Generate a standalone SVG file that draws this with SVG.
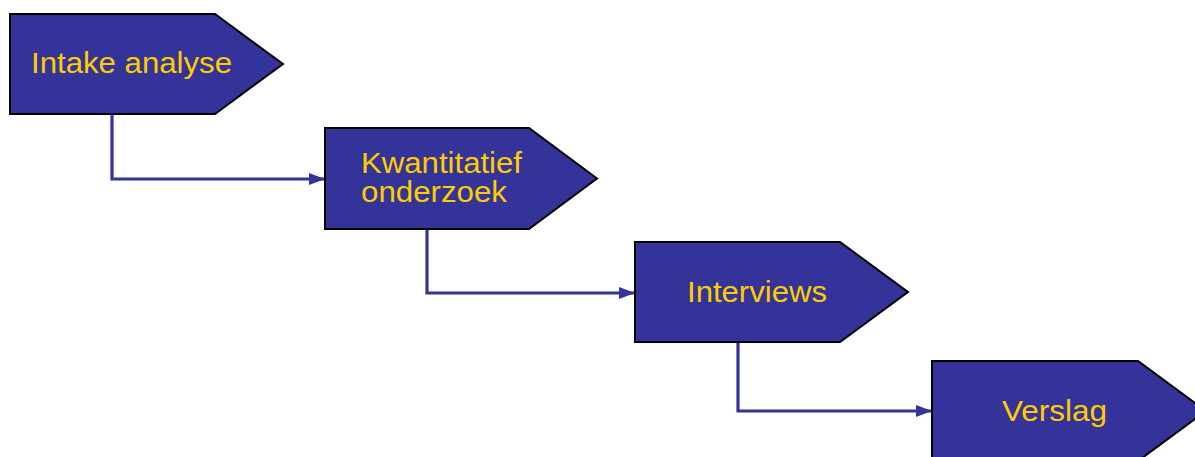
<svg xmlns="http://www.w3.org/2000/svg" width="1195" height="457" viewBox="0 0 1195 457">
<style>
.node{fill:#333399;stroke:#000;stroke-width:2;stroke-linejoin:miter}
.lbl{fill:#FFCC00;font-family:"Liberation Sans",Arial,sans-serif;font-size:29px}
.conn{fill:none;stroke:#333399;stroke-width:3.2}
</style>
<defs>
<marker id="arr" markerUnits="userSpaceOnUse" markerWidth="16" markerHeight="12" refX="16" refY="6" orient="auto">
<path d="M0,0 L16,6 L0,12 z" fill="#333399"/>
</marker>
</defs>
<rect width="1195" height="457" fill="#fff"/>
<g id="connectors">
<path class="conn" d="M112,114 V179 H325" marker-end="url(#arr)"/>
<path class="conn" d="M427,228 V293 H635" marker-end="url(#arr)"/>
<path class="conn" d="M738,342 V411 H932" marker-end="url(#arr)"/>
</g>
<g id="node-intake">
<path class="node" d="M10,14 H215 L283,64 L215,114 H10 Z"/>
<text class="lbl" x="31" y="73" textLength="201" lengthAdjust="spacingAndGlyphs">Intake analyse</text>
</g>
<g id="node-kwantitatief">
<path class="node" d="M325,128 H529 L597,178.5 L529,229 H325 Z"/>
<text class="lbl" x="361" y="173" textLength="161" lengthAdjust="spacingAndGlyphs">Kwantitatief</text>
<text class="lbl" x="361" y="202" textLength="146" lengthAdjust="spacingAndGlyphs">onderzoek</text>
</g>
<g id="node-interviews">
<path class="node" d="M635,242 H840 L908,292 L840,342 H635 Z"/>
<text class="lbl" x="687" y="302" textLength="140" lengthAdjust="spacingAndGlyphs">Interviews</text>
</g>
<g id="node-verslag">
<path class="node" d="M932,361 H1138 L1206,411 L1138,461 H932 Z"/>
<text class="lbl" x="1002" y="421" textLength="105" lengthAdjust="spacingAndGlyphs">Verslag</text>
</g>
</svg>
